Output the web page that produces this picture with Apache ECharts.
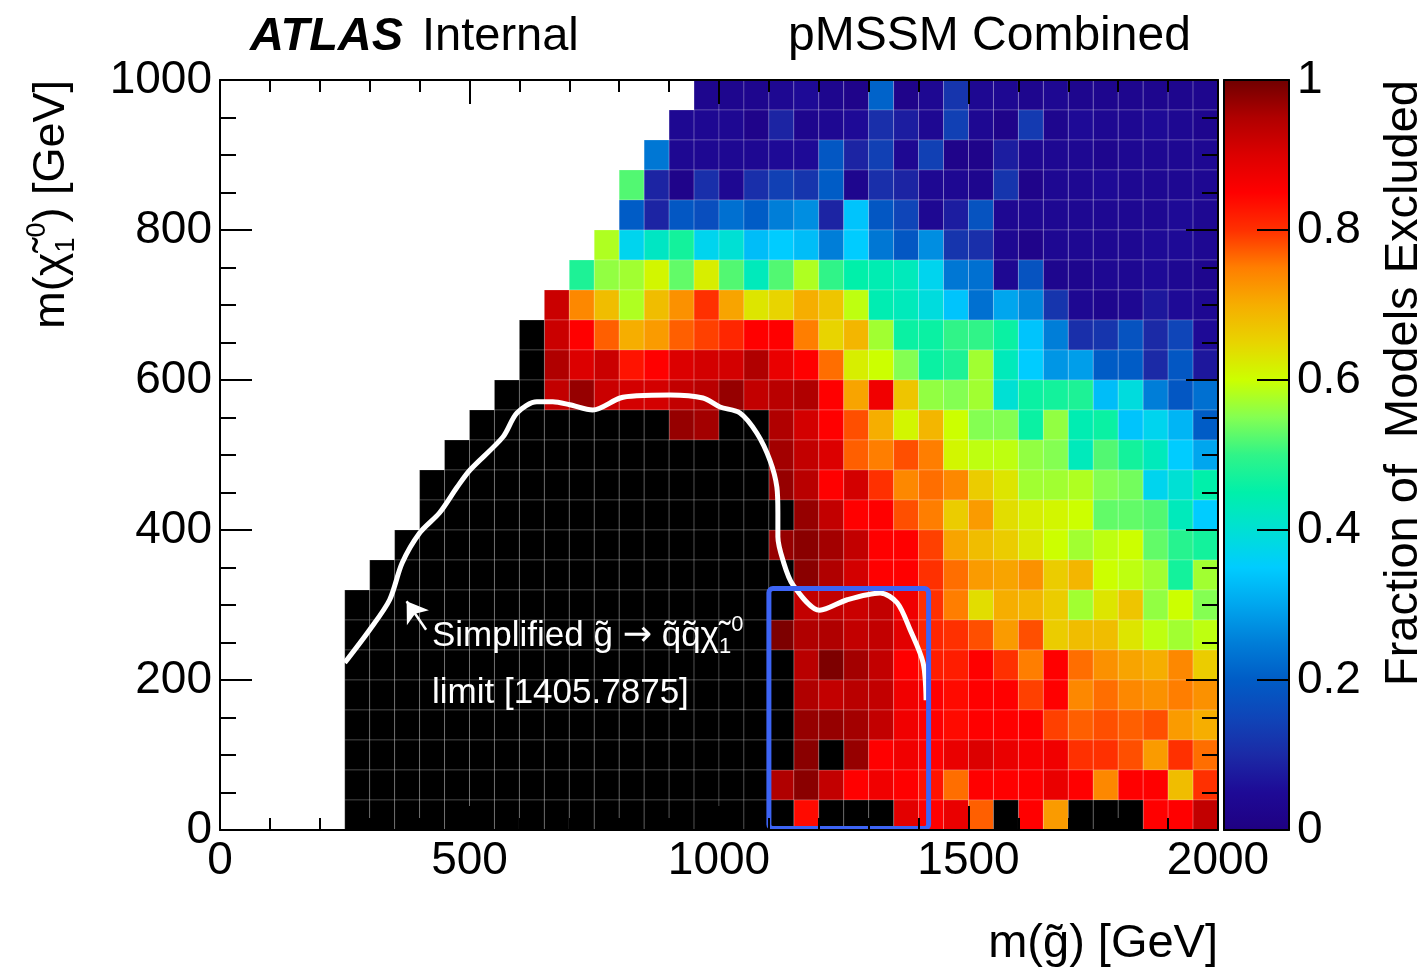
<!DOCTYPE html>
<html>
<head>
<meta charset="utf-8">
<script src="https://cdn.jsdelivr.net/npm/echarts@6/dist/echarts.min.js"></script>
<style>
html,body{margin:0;padding:0;background:#fff;}
#chart{width:1427px;height:973px;}
</style>
</head>
<body>
<div id="chart"></div>
<script>
// ---------------- data ----------------
const X_BIN = 50;   // GeV per gluino-mass bin
const Y_BIN = 40;   // GeV per neutralino-mass bin
// first filled x-bin of each row, top row (960-1000 GeV) first
const firstBin = [19,18,17,16,16,15,14,13,12,12,11,10,9,8,8,7,6,5,5,5,5,5,5,5,5];
// fraction of models excluded, one row per y-bin (top row first), from firstBin to the last bin (1950-2000)
const fracRows = [
  [0.03,0.03,0.03,0.04,0.05,0.03,0.02,0.21,0.02,0.04,0.12,0.04,0.04,0.03,0.04,0.03,0.03,0.03,0.03,0.03,0.03],
  [0.04,0.04,0.04,0.02,0.09,0.03,0.04,0.05,0.11,0.08,0.04,0.14,0.04,0.02,0.13,0.03,0.05,0.04,0.04,0.05,0.04,0.03],
  [0.24,0.04,0.04,0.04,0.04,0.05,0.05,0.19,0.09,0.14,0.04,0.14,0.02,0.02,0.08,0.04,0.04,0.04,0.03,0.04,0.04,0.04,0.04],
  [0.52,0.09,0.02,0.11,0.04,0.11,0.14,0.12,0.2,0.03,0.11,0.09,0.04,0.04,0.03,0.12,0.02,0.04,0.04,0.05,0.04,0.04,0.04,0.04],
  [0.2,0.09,0.19,0.17,0.23,0.2,0.25,0.27,0.09,0.34,0.19,0.15,0.04,0.08,0.18,0.04,0.04,0.04,0.04,0.04,0.04,0.04,0.05,0.04],
  [0.58,0.37,0.42,0.47,0.37,0.4,0.33,0.35,0.33,0.25,0.35,0.24,0.19,0.27,0.12,0.11,0.04,0.02,0.04,0.04,0.04,0.04,0.05,0.05,0.04],
  [0.48,0.56,0.57,0.61,0.53,0.62,0.52,0.43,0.52,0.58,0.5,0.45,0.44,0.43,0.37,0.24,0.23,0.04,0.18,0.03,0.03,0.04,0.04,0.05,0.04,0.03],
  [0.92,0.74,0.68,0.58,0.68,0.73,0.8,0.71,0.63,0.65,0.7,0.67,0.59,0.44,0.43,0.39,0.34,0.23,0.3,0.26,0.12,0.04,0.03,0.04,0.07,0.05,0.04],
  [1,0.92,0.85,0.77,0.7,0.72,0.77,0.79,0.81,0.85,0.85,0.75,0.65,0.69,0.57,0.46,0.46,0.5,0.5,0.46,0.34,0.25,0.11,0.12,0.18,0.1,0.15,0.05],
  [1,0.95,0.9,0.92,0.83,0.85,0.9,0.91,0.91,0.95,0.88,0.85,0.76,0.62,0.6,0.55,0.46,0.48,0.57,0.43,0.35,0.28,0.29,0.2,0.2,0.1,0.19,0.07],
  [1,1,0.93,0.97,0.92,0.91,0.91,0.93,0.94,0.97,0.93,0.94,0.95,0.85,0.71,0.87,0.67,0.56,0.55,0.57,0.4,0.46,0.47,0.48,0.33,0.39,0.25,0.19,0.23],
  [1,1,1,1,1,1,1,1,0.97,0.96,1,1,0.95,0.91,0.85,0.78,0.7,0.61,0.69,0.6,0.55,0.55,0.46,0.56,0.44,0.46,0.34,0.37,0.32,0.2],
  [1,1,1,1,1,1,1,1,1,1,1,1,1,0.96,0.93,0.9,0.77,0.75,0.78,0.75,0.61,0.59,0.59,0.56,0.55,0.43,0.52,0.47,0.43,0.35,0.3],
  [1,1,1,1,1,1,1,1,1,1,1,1,1,1,0.97,0.94,0.85,0.91,0.8,0.74,0.76,0.74,0.66,0.63,0.57,0.57,0.58,0.55,0.54,0.37,0.4,0.45],
  [1,1,1,1,1,1,1,1,1,1,1,1,1,1,1,0.97,0.93,0.85,0.85,0.78,0.75,0.66,0.72,0.64,0.62,0.61,0.6,0.53,0.53,0.52,0.43,0.35],
  [1,1,1,1,1,1,1,1,1,1,1,1,1,1,1,0.97,0.98,0.96,0.93,0.85,0.85,0.79,0.71,0.68,0.66,0.63,0.6,0.57,0.59,0.6,0.53,0.49,0.47],
  [1,1,1,1,1,1,1,1,1,1,1,1,1,1,1,1,1,0.98,0.95,0.91,0.85,0.85,0.8,0.76,0.72,0.71,0.73,0.66,0.69,0.6,0.59,0.57,0.47,0.57],
  [1,1,1,1,1,1,1,1,1,1,1,1,1,1,1,1,1,1,0.93,0.93,0.92,0.93,0.87,0.8,0.75,0.64,0.7,0.69,0.66,0.57,0.63,0.67,0.56,0.6,0.55],
  [1,1,1,1,1,1,1,1,1,1,1,1,1,1,1,1,1,0.99,0.95,0.95,0.93,0.93,0.89,0.81,0.8,0.78,0.72,0.78,0.66,0.68,0.68,0.63,0.59,0.57,0.59],
  [1,1,1,1,1,1,1,1,1,1,1,1,1,1,1,1,1,1,0.94,0.99,0.96,0.93,0.85,0.82,0.82,0.85,0.8,0.75,0.85,0.76,0.73,0.71,0.7,0.74,0.66],
  [1,1,1,1,1,1,1,1,1,1,1,1,1,1,1,1,1,1,0.95,0.93,0.94,0.93,0.87,0.85,0.84,0.85,0.85,0.79,0.85,0.74,0.76,0.74,0.73,0.75,0.73],
  [1,1,1,1,1,1,1,1,1,1,1,1,1,1,1,1,1,1,0.97,0.97,0.96,0.93,0.87,0.85,0.84,0.85,0.85,0.85,0.79,0.77,0.78,0.77,0.78,0.72,0.7],
  [1,1,1,1,1,1,1,1,1,1,1,1,1,1,1,1,1,1,0.98,1,0.97,0.85,0.87,0.85,0.88,0.9,0.88,0.86,0.87,0.8,0.8,0.78,0.72,0.8,0.76],
  [1,1,1,1,1,1,1,1,1,1,1,1,1,1,1,1,1,0.95,0.98,0.93,0.85,0.87,0.85,0.83,0.76,0.85,0.85,0.85,0.88,0.85,0.74,0.85,0.85,0.68,0.8],
  [1,1,1,1,1,1,1,1,1,1,1,1,1,1,1,1,1,1,0.84,1,1,1,0.89,0.85,0.88,0.77,1,0.85,0.72,1,1,1,0.85,0.85,0.93]
];
// simplified-model limit contour (GeV)
const contourX = [250,300,340,365,400,440,475,501,567,595,635,667,701,747,802,836,902,968,1002,1042,1076,1102,1116,1118,1118,1128,1148,1202,1257,1323,1357,1383,1409,1415];
const contourY = [223,267,307,356,396,423,457,480,524,556,571,571,567,560,576,579,580,576,564,556,529,493,457,423,391,360,327,293,307,316,303,267,223,173];
// highlighted box: [xMin, yMin, xMax, yMax] in GeV
const limitBox = [1100, 2, 1420, 322];
// annotation arrow: tail and tip (GeV)
const arrowTail = [413, 267];
const arrowTip = [374, 305];
// colour palette stops (value 0 -> 1, evenly spaced)
const paletteColors = ['#1f0082','#1e0a96','#1b2aa6','#0f45b8','#005cc6','#007ed8','#00a6ee','#00ccff','#00e0d4','#00f0aa','#30f488','#84ff52','#ccff00','#e8d400','#f6ae00','#ff7e00','#ff3000','#ff0000','#dc0000','#b00000','#700000'];

// ---------------- build ----------------
const cells = [], fullCells = [];
fracRows.forEach((row, t) => {
  const yc = (fracRows.length - 1 - t) * Y_BIN + Y_BIN / 2;
  row.forEach((v, k) => {
    const xc = (firstBin[t] + k) * X_BIN + X_BIN / 2;
    if (v >= 1) fullCells.push([xc, yc, v]); else cells.push([xc, yc, v]);
  });
});
const contour = contourX.map((x, i) => [x, contourY[i]]);

const FONT = '"Liberation Sans", Arial, Helvetica, sans-serif';
const plain = v => String(+v.toFixed(2));

function cellRender(useVisual) {
  return function (params, api) {
    const x = api.value(0), y = api.value(1);
    const a = api.coord([x - X_BIN / 2, y + Y_BIN / 2]);
    const b = api.coord([x + X_BIN / 2, y - Y_BIN / 2]);
    return {
      type: 'rect',
      shape: { x: a[0], y: a[1], width: b[0] - a[0], height: b[1] - a[1] },
      style: { fill: useVisual ? api.visual('color') : '#000', stroke: 'rgba(255,255,255,0.2)', lineWidth: 1 }
    };
  };
}

const tickLine = { color: '#000', width: 2 };
function mainX(pos, labels) {
  return {
    type: 'value', gridIndex: 0, min: 0, max: 2000, interval: 500, position: pos, z: 10,
    axisLine: { show: true, onZero: false, lineStyle: tickLine },
    axisTick: { show: true, inside: true, length: 24, lineStyle: tickLine },
    minorTick: { show: true, splitNumber: 5, length: 12, lineStyle: tickLine },
    splitLine: { show: false }, minorSplitLine: { show: false },
    axisLabel: { show: labels, color: '#000', fontSize: 46, fontFamily: FONT, margin: 8, formatter: plain }
  };
}
function mainY(pos, labels) {
  return {
    type: 'value', gridIndex: 0, min: 0, max: 1000, interval: 200, position: pos, z: 10,
    axisLine: { show: true, onZero: false, lineStyle: tickLine },
    axisTick: { show: true, inside: true, length: 32, lineStyle: tickLine },
    minorTick: { show: true, splitNumber: 4, length: 16, lineStyle: tickLine },
    splitLine: { show: false }, minorSplitLine: { show: false },
    axisLabel: { show: labels, color: '#000', fontSize: 46, fontFamily: FONT, margin: 8, formatter: plain }
  };
}
function barX(pos) {
  return {
    type: 'value', gridIndex: 1, min: 0, max: 1, position: pos, z: 10,
    axisLine: { show: true, onZero: false, lineStyle: tickLine },
    axisTick: { show: false }, axisLabel: { show: false }, splitLine: { show: false }
  };
}

const subsup = (fs, col) => ({
  sub: { fontSize: fs, lineHeight: fs, verticalAlign: 'bottom', fontFamily: FONT, fill: col },
  sup: { fontSize: fs, lineHeight: fs, verticalAlign: 'top', fontFamily: FONT, fill: col }
});

const option = {
  animation: false,
  backgroundColor: '#fff',
  grid: [
    { left: 220, top: 80, width: 998, height: 750, containLabel: false },
    { left: 1224, top: 80, width: 65, height: 750, containLabel: false }
  ],
  xAxis: [mainX('bottom', true), mainX('top', false), barX('bottom'), barX('top')],
  yAxis: [
    mainY('left', true), mainY('right', false),
    {
      type: 'value', gridIndex: 1, min: 0, max: 1, interval: 0.2, position: 'right', z: 10,
      axisLine: { show: true, onZero: false, lineStyle: tickLine },
      axisTick: { show: true, inside: true, length: 32, lineStyle: tickLine },
      splitLine: { show: false },
      axisLabel: { show: true, color: '#000', fontSize: 46, fontFamily: FONT, margin: 8, formatter: plain }
    },
    {
      type: 'value', gridIndex: 1, min: 0, max: 1, position: 'left', z: 10,
      axisLine: { show: true, onZero: false, lineStyle: tickLine },
      axisTick: { show: false }, axisLabel: { show: false }, splitLine: { show: false }
    }
  ],
  visualMap: {
    type: 'continuous', show: false, min: 0, max: 1, dimension: 2, seriesIndex: 0,
    inRange: { color: paletteColors }
  },
  series: [
    { type: 'custom', name: 'fraction', xAxisIndex: 0, yAxisIndex: 0, z: 1, silent: true,
      renderItem: cellRender(true), encode: { x: 0, y: 1 }, data: cells },
    { type: 'custom', name: 'all excluded', xAxisIndex: 0, yAxisIndex: 0, z: 1, silent: true,
      renderItem: cellRender(false), encode: { x: 0, y: 1 }, data: fullCells },
    { type: 'line', name: 'limit', xAxisIndex: 0, yAxisIndex: 0, z: 5, silent: true,
      data: contour, smooth: 0.3, showSymbol: false, symbol: 'none',
      lineStyle: { color: '#fff', width: 5 },
      markLine: {
        silent: true, symbol: ['none', 'arrow'], symbolSize: 20, animation: false,
        label: { show: false },
        lineStyle: { color: '#fff', width: 2.5, type: 'solid' },
        data: [[{ coord: arrowTail }, { coord: arrowTip }]]
      }
    },
    { type: 'custom', name: 'box', xAxisIndex: 0, yAxisIndex: 0, z: 6, silent: true,
      encode: { x: [0, 2], y: [1, 3] }, data: [limitBox],
      renderItem: function (params, api) {
        const a = api.coord([api.value(0), api.value(3)]);
        const b = api.coord([api.value(2), api.value(1)]);
        return { type: 'rect', shape: { x: a[0], y: a[1], width: b[0] - a[0], height: b[1] - a[1], r: 4 },
          style: { fill: 'none', stroke: '#3d64f5', lineWidth: 5 } };
      }
    },
    { type: 'custom', name: 'colorbar', xAxisIndex: 2, yAxisIndex: 2, z: 1, silent: true,
      encode: { x: [0, 2], y: [1, 3] }, data: [[0, 0, 1, 1]],
      renderItem: function (params, api) {
        const a = api.coord([api.value(0), api.value(3)]);
        const b = api.coord([api.value(2), api.value(1)]);
        const stops = paletteColors.map((c, i) => ({ offset: i / (paletteColors.length - 1), color: c }));
        return { type: 'rect', shape: { x: a[0], y: a[1], width: b[0] - a[0], height: b[1] - a[1] },
          style: { fill: new echarts.graphic.LinearGradient(0, 1, 0, 0, stops) } };
      }
    }
  ],
  graphic: { elements: [
    { type: 'text', x: 250, y: 37, z: 100, style: { text: 'ATLAS', font: 'italic bold 47px ' + FONT, fill: '#000', verticalAlign: 'middle' } },
    { type: 'text', x: 422, y: 37, z: 100, style: { text: 'Internal', font: '47px ' + FONT, fill: '#000', verticalAlign: 'middle' } },
    { type: 'text', x: 788, y: 37, z: 100, style: { text: 'pMSSM Combined', font: '48px ' + FONT, fill: '#000', verticalAlign: 'middle' } },
    { type: 'text', x: 1218, y: 944, z: 100, style: { text: 'm(g\u0303) [GeV]', font: '47px ' + FONT, fill: '#000', align: 'right', verticalAlign: 'middle' } },
    { type: 'text', x: 52, y: 80, z: 100, rotation: Math.PI / 2,
      style: { text: '{m|m(\u03c7\u0303}{sub|1}{sup|0}{m|) [GeV]}', align: 'right', verticalAlign: 'middle',
        rich: Object.assign({ m: { fontSize: 45, lineHeight: 56, fontFamily: FONT, fill: '#000' } }, subsup(27, '#000')) } },
    { type: 'text', x: 1404, y: 80, z: 100, rotation: Math.PI / 2,
      style: { text: 'Fraction of  Models Excluded', font: '47px ' + FONT, fill: '#000', align: 'right', verticalAlign: 'middle' } },
    { type: 'text', x: 432, y: 636, z: 100,
      style: { text: '{m|Simplified g\u0303 }{arr|\u2192}{m| q\u0303q\u0303\u03c7\u0303}{sub|1}{sup|0}', verticalAlign: 'middle',
        rich: Object.assign({
          m: { fontSize: 35, lineHeight: 44, fontFamily: FONT, fill: '#fff' },
          arr: { fontSize: 35, lineHeight: 44, fontFamily: '"DejaVu Sans", sans-serif', fill: '#fff' }
        }, subsup(22, '#fff')) } },
    { type: 'text', x: 432, y: 693, z: 100, style: { text: 'limit [1405.7875]', font: '35px ' + FONT, fill: '#fff', verticalAlign: 'middle' } }
  ] }
};

const chart = echarts.init(document.getElementById('chart'), null, { renderer: 'canvas' });
chart.setOption(option);
</script>
</body>
</html>
